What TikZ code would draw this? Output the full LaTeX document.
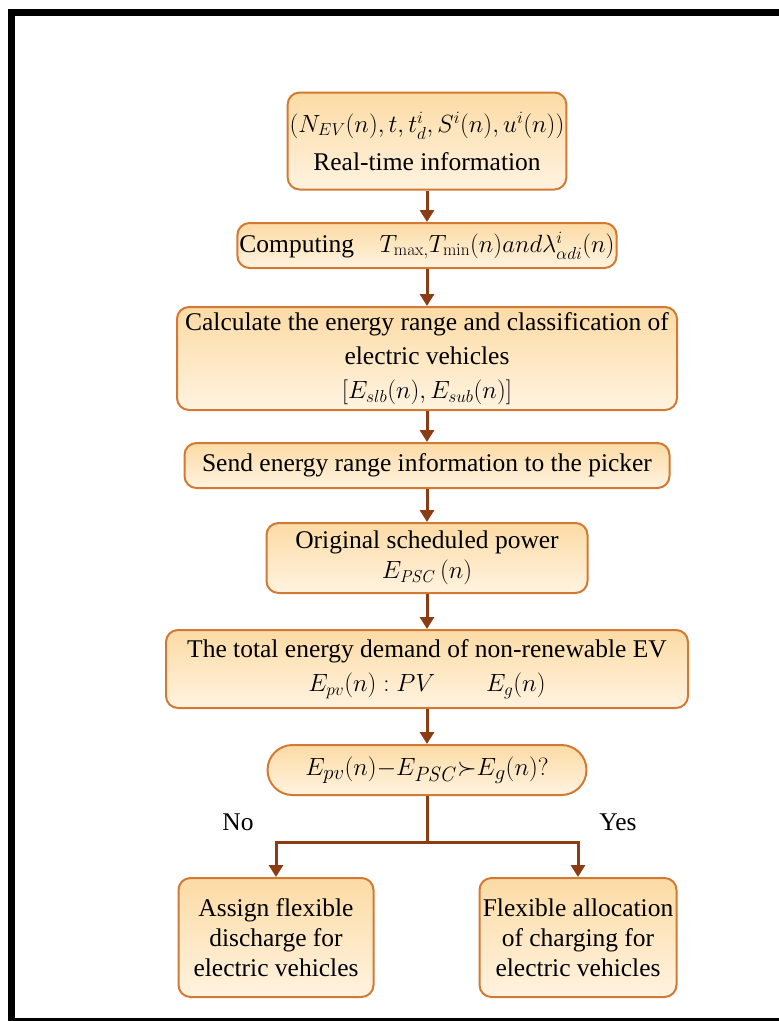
\documentclass[tikz,border=0pt]{standalone}
\usepackage{amssymb}
\usepackage[no-math]{fontspec}
\setmainfont{Liberation Serif}
\usetikzlibrary{arrows.meta}

\definecolor{boxedge}{HTML}{D27A33}
\definecolor{boxtop}{HTML}{FCDBA5}
\definecolor{boxbot}{HTML}{FFF3E0}
\definecolor{flowline}{HTML}{8C3C12}

\tikzset{
  stepbox/.style={draw=boxedge, line width=2pt, rounded corners=12pt,
    top color=boxtop, bottom color=boxbot, align=center, inner sep=2pt,
    font=\fontsize{25.5}{30}\selectfont},
  flow/.style={draw=flowline, line width=3pt, -{Triangle[width=14pt,length=12pt]}},
  tag/.style={font=\fontsize{25.5}{30}\selectfont}
}

\begin{document}
\begin{tikzpicture}[x=1pt,y=-1pt]
  \useasboundingbox (0,0) rectangle (779,1021);
  % frame
  \draw[line width=7pt] (11.5,1021) -- (11.5,12) -- (779,12);
  \draw[line width=3pt] (8,1019.5) -- (779,1019.5);

  % steps
  \node[stepbox, minimum width=275pt, minimum height=97pt] (info) at (427,141)
    {{\fontsize{26}{30}\selectfont$(N_{EV}(n),t,t_d^i,S^i(n),u^i(n))$}\\[8pt]Real-time information};
  \node[stepbox, minimum width=370pt, minimum height=45pt] (comp) at (427,245.5)
    {Computing\quad $T_{\max,}T_{\min}(n) and \lambda^{i}_{\alpha di}(n)$};
  \node[stepbox, minimum width=500pt, minimum height=103pt] (calc) at (427,358.5)
    {Calculate the energy range and classification of\\[4pt]electric vehicles\\[4pt]$[E_{slb}(n),E_{sub}(n)]$};
  \node[stepbox, minimum width=485pt, minimum height=45pt] (send) at (427,465.5)
    {Send energy range information to the picker};
  \node[stepbox, minimum width=321pt, minimum height=70pt] (orig) at (427,558)
    {Original scheduled power\\$E_{\mathit{PSC}}\,(n)$};
  \node[stepbox, minimum width=522pt, minimum height=78pt] (total) at (427,669)
    {The total energy demand of non-renewable EV\\[4pt]$E_{pv}(n):PV\qquad E_g(n)$};
  \node[stepbox, rounded corners=25pt, minimum width=319pt, minimum height=50pt,
    font=\fontsize{29}{32}\selectfont] (test) at (427,770)
    {$E_{pv}(n){-}E_{\mathit{PSC}}{\succ}E_g(n)?$};
  \node[stepbox, minimum width=195pt, minimum height=119pt] (disch) at (276,937.5)
    {Assign flexible\\discharge for\\electric vehicles};
  \node[stepbox, minimum width=197pt, minimum height=119pt] (charge) at (578,937.5)
    {Flexible allocation\\of charging for\\electric vehicles};

  \coordinate (split) at (427,842);

  % connectors
  \draw[flow] (info) -- (comp);
  \draw[flow] (comp) -- (calc);
  \draw[flow] (calc) -- (send);
  \draw[flow] (send) -- (orig);
  \draw[flow] (orig) -- (total);
  \draw[flow] (total) -- (test);
  \draw[draw=flowline, line width=3pt] (test) -- (split);
  \draw[flow] (split) -| (disch);
  \draw[flow] (split) -| (charge);

  \node[tag] (no) at (238,822) {No};
  \node[tag] (yes) at (618,822) {Yes};
\end{tikzpicture}
\end{document}
